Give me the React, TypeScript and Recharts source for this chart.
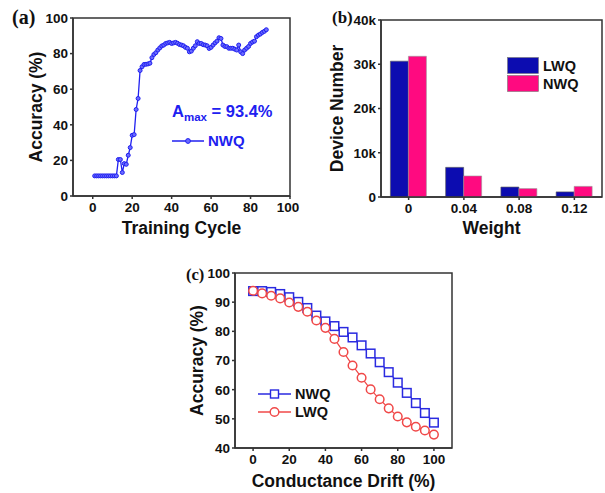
import React from 'react';
import {
  LineChart, Line, BarChart, Bar, XAxis, YAxis, ReferenceArea, Legend,
} from 'recharts';

// ---------- Panel (a): accuracy vs training cycle (NWQ) ----------
const trainCycles = Array.from({ length: 88 }, (_, i) => i + 1);
const trainAccuracy = [
  11.3, 11.3, 11.3, 11.3, 11.3, 11.3, 11.3, 11.3, 11.3, 11.3, 11.3, 11.3,
  20.5, 20.5, 13.2, 18.2, 17.8, 22.9, 27.2, 34.1, 34.5, 48.6, 54.8, 70.5,
  72.6, 73.9, 74.0, 74.2, 74.6, 77.7, 79.5, 80.5, 82.0, 83.2, 84.3, 84.8,
  85.7, 86.0, 86.3, 85.7, 86.0, 86.3, 85.8, 85.1, 84.8, 84.4, 83.5, 83.0,
  81.0, 81.4, 83.0, 84.4, 86.7, 85.7, 85.7, 85.0, 84.8, 84.4, 82.9, 83.5,
  84.8, 86.0, 87.0, 88.9, 88.5, 84.8, 84.0, 83.9, 83.0, 83.0, 83.0, 82.5,
  82.0, 84.8, 81.0, 80.0, 82.0, 83.0, 84.0, 85.7, 86.5, 87.0, 89.5, 90.4,
  91.0, 91.9, 92.5, 93.4,
];
const trainTicksX = [0, 20, 40, 60, 80, 100];
const trainTicksY = [0, 20, 40, 60, 80, 100];
const trainData = trainCycles.map((c, i) => ({ cycle: c, acc: trainAccuracy[i] }));

// ---------- Panel (b): device number histogram ----------
const weightCategories = ['0', '0.04', '0.08', '0.12'];
const lwqCounts = [30700, 6700, 2250, 1150];
const nwqCounts = [31800, 4750, 1900, 2400];
const deviceTicks = [0, 10000, 20000, 30000, 40000];
const deviceData = weightCategories.map((w, i) => ({ w, LWQ: lwqCounts[i], NWQ: nwqCounts[i] }));

// ---------- Panel (c): accuracy vs conductance drift ----------
const driftValues = [0, 5, 10, 15, 20, 25, 30, 35, 40, 45, 50, 55, 60, 65, 70, 75, 80, 85, 90, 95, 100];
const driftNWQ = [93.8, 93.8, 93.5, 92.8, 91.7, 90.1, 88.0, 85.4, 83.4, 81.8, 79.8, 77.9, 75.2, 72.4, 69.4, 66.0, 62.4, 58.9, 55.4, 52.0, 48.7];
const driftLWQ = [93.9, 93.0, 92.2, 91.3, 89.9, 88.4, 86.7, 83.7, 81.2, 77.4, 72.9, 68.3, 64.1, 60.1, 56.7, 53.6, 50.8, 48.8, 47.3, 46.0, 44.6];
const driftTicksX = [0, 20, 40, 60, 80, 100];
const driftTicksY = [40, 50, 60, 70, 80, 90, 100];
const driftData = driftValues.map((d, i) => ({ d, NWQ: driftNWQ[i], LWQ: driftLWQ[i] }));

const FONT = '"Liberation Sans", Arial, sans-serif';
const AXIS = '#333333';
const titleStyle = { fontFamily: FONT, fontSize: 17.5, fontWeight: 700, fill: '#111' };

const BLUE_A = '#2020f0';
const BAR_BLUE = '#0c0cb0';
const BAR_PINK = '#ff0a80';
const C_BLUE = '#2a2ae0';
const C_RED = '#f04848';

const XTick = (fmt?: (v: any) => string) => (props: any) => {
  const { x, y, payload } = props;
  return (
    <text x={x} y={y} dy="0.72em" textAnchor="middle" fontFamily={FONT} fontSize={13.5} fontWeight={700} fill="#111">
      {fmt ? fmt(payload.value) : String(payload.value)}
    </text>
  );
};
const YTick = (fmt?: (v: any) => string) => (props: any) => {
  const { x, y, payload } = props;
  return (
    <text x={x} y={y} dy="0.36em" textAnchor="end" fontFamily={FONT} fontSize={13.5} fontWeight={700} fill="#111">
      {fmt ? fmt(payload.value) : String(payload.value)}
    </text>
  );
};

const panelLabel = (txt: string, left: number, top: number, size: number) => (
  <div style={{
    position: 'absolute', left, top, fontFamily: '"Liberation Serif", "Times New Roman", serif',
    fontWeight: 700, fontSize: size, lineHeight: `${size}px`, color: '#111',
  }}>{txt}</div>
);

const LegendA = () => (
  <div style={{ fontFamily: FONT, fontWeight: 700, color: BLUE_A }}>
    <div style={{ fontSize: 16.5, whiteSpace: 'nowrap', lineHeight: '20px' }}>
      A<sub style={{ fontSize: 11.5, verticalAlign: '-4px' }}>max</sub> = 93.4%
    </div>
    <div style={{ display: 'flex', alignItems: 'center', marginTop: 5, fontSize: 15 }}>
      <svg width={32} height={10} style={{ marginRight: 4 }}>
        <line x1={0} y1={5} x2={32} y2={5} stroke={BLUE_A} strokeWidth={1.5} />
        <circle cx={16} cy={5} r={2.4} fill="#6b6bff" stroke={BLUE_A} strokeWidth={1} />
      </svg>
      <span>NWQ</span>
    </div>
  </div>
);

const LegendB = () => (
  <div style={{ fontFamily: FONT, fontWeight: 700, fontSize: 14.5, color: '#111' }}>
    {[{ n: 'LWQ', c: BAR_BLUE }, { n: 'NWQ', c: BAR_PINK }].map((it) => (
      <div key={it.n} style={{ display: 'flex', alignItems: 'center', height: 17, marginBottom: 1 }}>
        <svg width={32} height={17} style={{ marginRight: 4 }}>
          <rect x={0.5} y={0.5} width={31} height={16} fill={it.c} stroke="#777" strokeWidth={0.6} />
        </svg>
        <span>{it.n}</span>
      </div>
    ))}
  </div>
);

const LegendC = () => (
  <div style={{ fontFamily: FONT, fontWeight: 700, fontSize: 14.5, color: '#111' }}>
    <div style={{ display: 'flex', alignItems: 'center', height: 18 }}>
      <svg width={33} height={12} style={{ marginRight: 4 }}>
        <line x1={0} y1={6} x2={33} y2={6} stroke={C_BLUE} strokeWidth={1.3} />
        <rect x={12.5} y={2} width={8} height={8} fill="#fff" stroke={C_BLUE} strokeWidth={1.4} />
      </svg>
      <span>NWQ</span>
    </div>
    <div style={{ display: 'flex', alignItems: 'center', height: 18 }}>
      <svg width={33} height={12} style={{ marginRight: 4 }}>
        <line x1={0} y1={6} x2={33} y2={6} stroke={C_RED} strokeWidth={1.3} />
        <circle cx={16.5} cy={6} r={4.3} fill="#fff" stroke={C_RED} strokeWidth={1.4} />
      </svg>
      <span>LWQ</span>
    </div>
  </div>
);

const SquareDot = (props: any) => {
  const { cx, cy, index } = props;
  if (cx == null || cy == null) return <g key={`s${index}`} />;
  return <rect key={`s${index}`} x={cx - 4.3} y={cy - 4.3} width={8.6} height={8.6} fill="#fff" stroke={C_BLUE} strokeWidth={1.5} />;
};

const kFmt = (v: number) => (v === 0 ? '0' : `${v / 1000}k`);

export default function App() {
  return (
    <div style={{ position: 'absolute', left: 0, top: 0, width: 605, height: 493, background: '#fff', overflow: 'hidden' }}>
      {/* Panel (a) */}
      <div style={{ position: 'absolute', left: 0, top: 0 }}>
        <LineChart width={300} height={240} data={trainData} margin={{ top: 18, right: 10, left: 13, bottom: 0 }}>
          <XAxis dataKey="cycle" type="number" domain={[-10, 100]} ticks={trainTicksX} height={44}
            tick={XTick()} tickSize={3} tickMargin={3} stroke={AXIS} strokeWidth={1.5} allowDataOverflow
            label={{ value: 'Training Cycle', position: 'insideBottom', offset: 6, style: titleStyle }} />
          <YAxis type="number" domain={[0, 100]} ticks={trainTicksY} width={60}
            tick={YTick()} tickSize={3} tickMargin={2} stroke={AXIS} strokeWidth={1.5}
            label={{ value: 'Accuracy (%)', angle: -90, position: 'insideLeft', offset: 23, style: { ...titleStyle, textAnchor: 'middle' } }} />
          <ReferenceArea x1={-10} x2={100} y1={0} y2={100} fill="none" stroke={AXIS} strokeWidth={1.5} fillOpacity={0} />
          <Line type="linear" dataKey="acc" stroke={BLUE_A} strokeWidth={1.3} isAnimationActive={false}
            dot={{ r: 2, fill: '#6b6bff', stroke: BLUE_A, strokeWidth: 1 }} />
          <Legend layout="vertical" align="center" verticalAlign="middle" content={<LegendA />}
            wrapperStyle={{ left: 172, top: 101, width: 120 }} />
        </LineChart>
      </div>

      {/* Panel (b) */}
      <div style={{ position: 'absolute', left: 300, top: 0 }}>
        <BarChart width={305} height={240} data={deviceData} margin={{ top: 20, right: 3, left: 21, bottom: 0 }}
          barCategoryGap="17%" barGap={0}>
          <XAxis dataKey="w" height={43} tick={XTick()} tickSize={3} tickMargin={3} stroke={AXIS} strokeWidth={1.5}
            label={{ value: 'Weight', position: 'insideBottom', offset: 6, style: titleStyle }} />
          <YAxis type="number" domain={[0, 40000]} ticks={deviceTicks} width={60}
            tick={YTick(kFmt)} tickSize={3} tickMargin={2} stroke={AXIS} strokeWidth={1.5}
            label={{ value: 'Device Number', angle: -90, position: 'insideLeft', offset: 16, style: { ...titleStyle, textAnchor: 'middle' } }} />
          <Bar dataKey="LWQ" fill={BAR_BLUE} stroke="#555" strokeWidth={0.6} isAnimationActive={false} />
          <Bar dataKey="NWQ" fill={BAR_PINK} stroke="#999" strokeWidth={0.6} isAnimationActive={false} />
          <ReferenceArea x1="0" x2="0.12" y1={0} y2={40000} fill="none" stroke={AXIS} strokeWidth={1.5} fillOpacity={0} />
          <Legend layout="vertical" align="center" verticalAlign="middle" content={<LegendB />}
            wrapperStyle={{ left: 207, top: 57, width: 80 }} />
        </BarChart>
      </div>

      {/* Panel (c) */}
      <div style={{ position: 'absolute', left: 160, top: 250 }}>
        <LineChart width={305} height={243} data={driftData} margin={{ top: 23, right: 13, left: 15, bottom: 0 }}>
          <XAxis dataKey="d" type="number" domain={[-10, 110]} ticks={driftTicksX} height={45}
            tick={XTick()} tickSize={3} tickMargin={3} stroke={AXIS} strokeWidth={1.5}
            label={{ value: 'Conductance Drift (%)', position: 'insideBottom', offset: 6, style: titleStyle }} />
          <YAxis type="number" domain={[40, 100]} ticks={driftTicksY} width={60}
            tick={YTick()} tickSize={3} tickMargin={2} stroke={AXIS} strokeWidth={1.5}
            label={{ value: 'Accuracy (%)', angle: -90, position: 'insideLeft', offset: 22, style: { ...titleStyle, textAnchor: 'middle' } }} />
          <ReferenceArea x1={-10} x2={110} y1={40} y2={100} fill="none" stroke={AXIS} strokeWidth={1.5} fillOpacity={0} />
          <Line type="linear" dataKey="NWQ" stroke={C_BLUE} strokeWidth={1.2} isAnimationActive={false} dot={<SquareDot />} />
          <Line type="linear" dataKey="LWQ" stroke={C_RED} strokeWidth={1.2} isAnimationActive={false}
            dot={{ r: 4.3, fill: '#fff', stroke: C_RED, strokeWidth: 1.5 }} />
          <Legend layout="vertical" align="center" verticalAlign="middle" content={<LegendC />}
            wrapperStyle={{ left: 98, top: 135, width: 90 }} />
        </LineChart>
      </div>

      {panelLabel('(a)', 12, 7, 20)}
      {panelLabel('(b)', 332, 9, 17)}
      {panelLabel('(c)', 186, 267, 16.5)}
    </div>
  );
}
